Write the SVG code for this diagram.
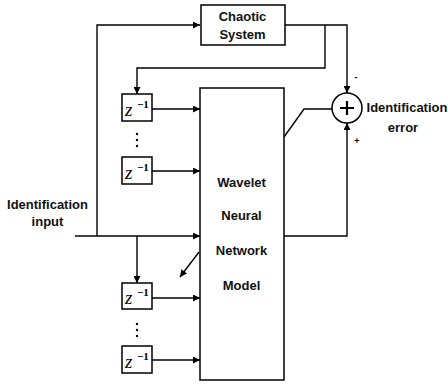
<svg xmlns="http://www.w3.org/2000/svg" width="448" height="384" viewBox="0 0 448 384">
<style>
.box{fill:#fff;stroke:#000;stroke-width:1.5}
.ln{fill:none;stroke:#000;stroke-width:1.4}
.t{font-family:"Liberation Sans",Arial,sans-serif;font-size:13px;font-weight:bold;fill:#111;text-anchor:middle}
.z{font-family:"Liberation Serif","Times New Roman",serif;font-size:19px;font-style:italic;fill:#000}
.e{font-family:"Liberation Serif","Times New Roman",serif;font-size:11px;font-weight:bold;fill:#000}
.s{font-family:"Liberation Sans",Arial,sans-serif;font-size:9px;font-weight:bold;fill:#000;text-anchor:middle}
</style>
<defs>
<marker id="ah" viewBox="0 0 10 10" refX="10" refY="5" markerWidth="9" markerHeight="7" markerUnits="userSpaceOnUse" orient="auto">
<path d="M0,0 L10,5 L0,10 z" fill="#000"/>
</marker>
</defs>
<g id="connectors">
<polyline class="ln" points="97,236 97,25 200,25" marker-end="url(#ah)"/>
<polyline class="ln" points="285,25 347,25 347,93" marker-end="url(#ah)"/>
<polyline class="ln" points="325,25 325,68 137,68 137,94" marker-end="url(#ah)"/>
<line class="ln" x1="152" y1="109" x2="200" y2="109" marker-end="url(#ah)"/>
<line class="ln" x1="152" y1="171" x2="200" y2="171" marker-end="url(#ah)"/>
<line class="ln" x1="75" y1="236" x2="200" y2="236" marker-end="url(#ah)"/>
<polyline class="ln" points="137,236 137,283" marker-end="url(#ah)"/>
<line class="ln" x1="152" y1="298" x2="200" y2="298" marker-end="url(#ah)"/>
<line class="ln" x1="152" y1="360" x2="200" y2="360" marker-end="url(#ah)"/>
<polyline class="ln" points="284,236 347,236 347,123" marker-end="url(#ah)"/>
<polyline class="ln" points="284,137 304,109 332,109"/>
<line class="ln" x1="199" y1="252" x2="180" y2="277" marker-end="url(#ah)"/>
</g>
<g id="chaotic">
<rect class="box" x="201" y="5" width="84" height="40"/>
<text class="t" x="242.5" y="20.5">Chaotic</text>
<text class="t" x="242.5" y="38.5">System</text>
</g>
<g id="wnn">
<rect class="box" x="200" y="88" width="84" height="292"/>
<text class="t" x="241.5" y="187">Wavelet</text>
<text class="t" x="241.5" y="220">Neural</text>
<text class="t" x="241.5" y="255">Network</text>
<text class="t" x="241.5" y="290">Model</text>
</g>
<g id="sum">
<circle cx="347" cy="108" r="15" fill="#fff" stroke="#000" stroke-width="1.5"/>
<path d="M340,108 H354 M347,101 V115" stroke="#000" stroke-width="2.2"/>
<text class="s" x="356" y="80">-</text>
<text class="s" x="357" y="144">+</text>
</g>
<g id="z1">
<rect class="box" x="122" y="94" width="30" height="27"/>
<text class="z" x="125" y="116">z</text><text class="e" x="137" y="108">−1</text>
</g>
<g id="dots1">
<circle cx="137" cy="134" r="1.2"/><circle cx="137" cy="140" r="1.2"/><circle cx="137" cy="146" r="1.2"/>
</g>
<g id="z2">
<rect class="box" x="122" y="157" width="30" height="27"/>
<text class="z" x="125" y="179">z</text><text class="e" x="137" y="171">−1</text>
</g>
<g id="z3">
<rect class="box" x="122" y="283" width="30" height="26"/>
<text class="z" x="125" y="304">z</text><text class="e" x="137" y="296">−1</text>
</g>
<g id="dots2">
<circle cx="137" cy="324" r="1.2"/><circle cx="137" cy="330" r="1.2"/><circle cx="137" cy="336" r="1.2"/>
</g>
<g id="z4">
<rect class="box" x="122" y="346" width="30" height="27"/>
<text class="z" x="125" y="368">z</text><text class="e" x="137" y="360">−1</text>
</g>
<g id="input-label">
<text class="t" x="47.5" y="209">Identification</text>
<text class="t" x="47.5" y="226">input</text>
</g>
<g id="error-label">
<text class="t" x="407" y="112">Identification</text>
<text class="t" x="403" y="132">error</text>
</g>
</svg>
